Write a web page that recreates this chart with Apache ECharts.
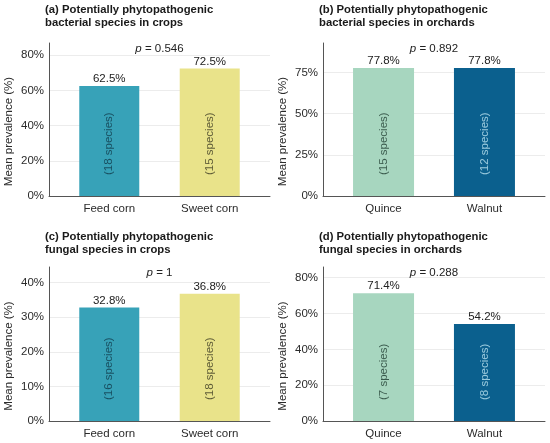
<!DOCTYPE html>
<html>
<head>
<meta charset="utf-8">
<script src="https://cdn.jsdelivr.net/npm/echarts@6/dist/echarts.min.js"></script>
<style>
  html, body { margin: 0; padding: 0; background: #fff; }
  #main { width: 550px; height: 443px; }
</style>
</head>
<body>
<div id="main"></div>
<script>
// data
const cropCategories = ['Feed corn', 'Sweet corn'];
const orchardCategories = ['Quince', 'Walnut'];

const bacteriaCropValues = [62.5, 72.5];
const bacteriaCropSpecies = [18, 15];
const bacteriaOrchardValues = [77.8, 77.8];
const bacteriaOrchardSpecies = [15, 12];
const fungiCropValues = [32.8, 36.8];
const fungiCropSpecies = [16, 18];
const fungiOrchardValues = [71.4, 54.2];
const fungiOrchardSpecies = [7, 8];

const pValues = ['0.546', '0.892', '1', '0.288'];
const panelTitles = [
  '(a) Potentially phytopathogenic\nbacterial species in crops',
  '(b) Potentially phytopathogenic\nbacterial species in orchards',
  '(c) Potentially phytopathogenic\nfungal species in crops',
  '(d) Potentially phytopathogenic\nfungal species in orchards'
];
const yTicksA = [0, 20, 40, 60, 80];
const yTicksB = [0, 25, 50, 75];
const yTicksC = [0, 10, 20, 30, 40];
const yTicksD = [0, 20, 40, 60, 80];

const cropColors = ['#37a2b8', '#e9e38a'];
const orchardColors = ['#a7d6bf', '#0b608e'];
const cropTextColors = ['#10394a', '#3b3a22'];
const orchardTextColors = ['#1e3b30', '#bde3f0'];

const FONT = 'Liberation Sans, Arial, sans-serif';
const TXT = '#2b2b2b';

const panels = [
  { cats: cropCategories, values: bacteriaCropValues, species: bacteriaCropSpecies, ticks: yTicksA, max: 87, colors: cropColors, text: cropTextColors },
  { cats: orchardCategories, values: bacteriaOrchardValues, species: bacteriaOrchardSpecies, ticks: yTicksB, max: 93, colors: orchardColors, text: orchardTextColors },
  { cats: cropCategories, values: fungiCropValues, species: fungiCropSpecies, ticks: yTicksC, max: 44.5, colors: cropColors, text: cropTextColors },
  { cats: orchardCategories, values: fungiOrchardValues, species: fungiOrchardSpecies, ticks: yTicksD, max: 86, colors: orchardColors, text: orchardTextColors }
];

// layout per panel (px)
const boxes = [
  { left: 49, top: 43, width: 221, height: 153, titleTop: 3 },
  { left: 323, top: 43, width: 222, height: 153, titleTop: 3 },
  { left: 49, top: 267, width: 221, height: 154, titleTop: 230 },
  { left: 323, top: 267, width: 222, height: 154, titleTop: 230 }
];

const grid = [], xAxis = [], yAxis = [], series = [], title = [], graphic = [];

panels.forEach((p, i) => {
  const b = boxes[i];
  grid.push({ left: b.left, top: b.top, width: b.width, height: b.height });
  xAxis.push({
    type: 'value', gridIndex: i, min: 0.4, max: 2.6,
    axisLine: { show: true, lineStyle: { color: '#555', width: 1 } },
    axisTick: { show: false },
    splitLine: { show: false },
    axisLabel: {
      customValues: [1, 2],
      formatter: v => p.cats[Math.round(v) - 1],
      color: TXT, fontSize: 11.5, fontFamily: FONT, margin: 7
    }
  });
  yAxis.push({
    type: 'value', gridIndex: i, min: 0, max: p.max,
    axisLine: { show: true, lineStyle: { color: '#555', width: 1 } },
    axisTick: { show: false, customValues: p.ticks },
    splitLine: { show: true, lineStyle: { color: '#ececec', width: 1 } },
    axisLabel: {
      customValues: p.ticks,
      formatter: v => v + '%',
      color: TXT, fontSize: 11.5, fontFamily: FONT, margin: 5
    }
  });
  series.push({
    type: 'bar', xAxisIndex: i, yAxisIndex: i,
    barWidth: Math.round(b.width * 0.6 / 2.2),
    data: p.values.map((v, k) => ({ value: [k + 1, v], itemStyle: { color: p.colors[k] } })),
    label: {
      show: true, position: 'top', distance: 1,
      formatter: d => d.value[1].toFixed(1) + '%',
      color: '#222', fontSize: 11.5, fontFamily: FONT
    }
  });
  series.push({
    type: 'scatter', xAxisIndex: i, yAxisIndex: i, symbolSize: 0, silent: true, z: 5,
    data: p.species.map((s, k) => ({
      value: [k + 1, 0],
      label: { color: p.text[k] },
      name: '(' + s + ' species)'
    })),
    label: {
      show: true, position: 'top', distance: 21, rotate: 90,
      align: 'left', verticalAlign: 'middle',
      formatter: d => d.name,
      fontSize: 11.5, fontFamily: FONT
    }
  });
  title.push({
    text: panelTitles[i],
    left: b.left - 4, top: b.titleTop, padding: 0,
    textStyle: { fontSize: 11.3, fontWeight: 'bold', color: '#1a1a1a', fontFamily: FONT, lineHeight: 13.5 }
  });
  title.push({
    text: '{i|p} = ' + pValues[i],
    left: b.left + b.width / 2, top: b.top, textAlign: 'center', padding: 0,
    textStyle: {
      fontSize: 11.5, fontWeight: 'normal', color: '#222', fontFamily: FONT,
      rich: { i: { fontStyle: 'italic', fontSize: 11.5, color: '#222', fontFamily: FONT } }
    }
  });
  graphic.push({
    type: 'text', rotation: Math.PI / 2,
    x: b.left - 40, y: b.top + b.height / 2 + 12,
    style: {
      text: 'Mean prevalence (%)', fill: TXT, font: '11.5px ' + FONT,
      textAlign: 'center', textVerticalAlign: 'middle'
    }
  });
});

const chart = echarts.init(document.getElementById('main'));
chart.setOption({
  animation: false,
  backgroundColor: '#fff',
  title, grid, xAxis, yAxis, series, graphic
});
</script>
</body>
</html>
